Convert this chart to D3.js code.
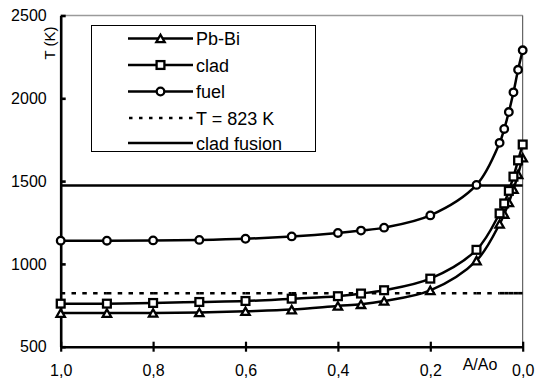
<!DOCTYPE html>
<html>
<head>
<meta charset="utf-8">
<script src="https://cdn.jsdelivr.net/npm/d3@7"></script>
<style>
  html, body { margin: 0; padding: 0; background: #fff; }
  svg { display: block; font-family: "Liberation Sans", Arial, sans-serif; }
</style>
</head>
<body>
<svg id="chart" width="536" height="385"></svg>
<script>
// Relative area A/Ao (plotted from 1 down to 0)
const areaRatio = [1.0, 0.9, 0.8, 0.7, 0.6, 0.5, 0.4, 0.35, 0.3, 0.2, 0.1, 0.05, 0.04, 0.03, 0.02, 0.01, 0.0];

// Temperatures in K
const pbBi = [703, 703, 704, 707, 714, 724, 746, 756, 776, 840, 1020, 1241, 1301, 1371, 1451, 1541, 1641];
const clad = [760, 760, 764, 770, 776, 790, 805, 821, 841, 911, 1085, 1305, 1365, 1441, 1527, 1625, 1721];
const fuel = [1140, 1140, 1142, 1145, 1152, 1166, 1187, 1201, 1219, 1293, 1477, 1731, 1815, 1917, 2036, 2172, 2290];

// Reference temperatures
const limitTemp = 823;
const cladFusionTemp = 1473;

const xTicks = [1.0, 0.8, 0.6, 0.4, 0.2, 0.0];
const yTicks = [500, 1000, 1500, 2000, 2500];

const legendLabels = ["Pb-Bi", "clad", "fuel", "T = 823 K", "clad fusion"];

const svg = d3.select("#chart");

const x = d3.scaleLinear().domain([1, 0]).range([60.7, 522.7]);
const y = d3.scaleLinear().domain([500, 2500]).range([346.7, 15.5]);

const fmt = d => d3.format(".1f")(d).replace(".", ",");
const FONT = "Liberation Sans, Arial, sans-serif";

// frame: light top edge, thin right edge
svg.append("line")
  .attr("x1", x(1)).attr("x2", x(0)).attr("y1", y(2500)).attr("y2", y(2500))
  .attr("stroke", "#9a9a9a").attr("stroke-width", 1.3);
svg.append("line")
  .attr("x1", x(0)).attr("x2", x(0)).attr("y1", y(2500)).attr("y2", y(500))
  .attr("stroke", "#444").attr("stroke-width", 1);

// Y axis
const yAxis = svg.append("g").attr("transform", `translate(${x(1)},0)`)
  .call(d3.axisLeft(y).tickValues(yTicks).tickFormat(d3.format("d"))
    .tickSizeInner(-5).tickSizeOuter(0).tickPadding(14));
yAxis.select(".domain").attr("stroke", "#000").attr("stroke-width", 2.6);
yAxis.selectAll(".tick line").attr("stroke", "#000").attr("stroke-width", 2.6);
yAxis.selectAll(".tick text").attr("font-size", 16).attr("fill", "#000").attr("font-family", FONT);

// X axis
const xAxis = svg.append("g").attr("transform", `translate(0,${y(500)})`)
  .call(d3.axisBottom(x).tickValues(xTicks).tickFormat(fmt)
    .tickSizeInner(5).tickSizeOuter(0).tickPadding(13));
xAxis.select(".domain").attr("stroke", "#000").attr("stroke-width", 2.6);
xAxis.selectAll(".tick line").attr("stroke", "#000").attr("stroke-width", 2.2).attr("y1", -5);
xAxis.selectAll(".tick text").attr("font-size", 16).attr("fill", "#000").attr("font-family", FONT);

// axis titles
svg.append("text")
  .attr("transform", `translate(55,43) rotate(-90)`)
  .attr("text-anchor", "middle").attr("font-size", 15).attr("fill", "#000").text("T (K)");
svg.append("text")
  .attr("x", 480).attr("y", 370)
  .attr("text-anchor", "middle").attr("font-size", 16).attr("fill", "#000").text("A/Ao");

// clad fusion level
svg.append("line")
  .attr("x1", x(1)).attr("x2", x(0))
  .attr("y1", y(cladFusionTemp)).attr("y2", y(cladFusionTemp))
  .attr("stroke", "#000").attr("stroke-width", 2.5);

// 823 K limit, dashed per segment between sample points
const dashArr = "4.5 6.3";
const limitPts = areaRatio.map(a => [x(a), y(limitTemp)]);
svg.append("g").selectAll("line")
  .data(d3.pairs(limitPts))
  .join("line")
  .attr("x1", d => d[0][0]).attr("y1", d => d[0][1])
  .attr("x2", d => d[1][0]).attr("y2", d => d[1][1])
  .attr("stroke", "#000").attr("stroke-width", 2.6)
  .attr("stroke-dasharray", dashArr);

// marker shapes
function drawMarker(g, type, cx, cy) {
  const sw = 2.3;
  if (type === "circle") {
    g.append("circle").attr("cx", cx).attr("cy", cy).attr("r", 3.8)
      .attr("fill", "#fff").attr("stroke", "#000").attr("stroke-width", sw);
  } else if (type === "square") {
    const s = 7.8;
    g.append("rect").attr("x", cx - s / 2).attr("y", cy - s / 2).attr("width", s).attr("height", s)
      .attr("fill", "#fff").attr("stroke", "#000").attr("stroke-width", sw);
  } else {
    const h = 7.4, w = 8.4;
    g.append("path")
      .attr("d", `M${cx},${cy - h / 2}L${cx + w / 2},${cy + h / 2}L${cx - w / 2},${cy + h / 2}Z`)
      .attr("fill", "#fff").attr("stroke", "#000").attr("stroke-width", sw)
      .attr("stroke-linejoin", "miter");
  }
}

const series = [
  { values: pbBi, marker: "triangle" },
  { values: clad, marker: "square" },
  { values: fuel, marker: "circle" }
];

const line = d3.line().x(d => x(d[0])).y(d => y(d[1])).curve(d3.curveCatmullRom.alpha(0.5));

series.forEach(s => {
  const pts = areaRatio.map((a, i) => [a, s.values[i]]);
  svg.append("path").attr("d", line(pts))
    .attr("fill", "none").attr("stroke", "#000").attr("stroke-width", 2.5);
  const mg = svg.append("g");
  pts.forEach(p => drawMarker(mg, s.marker, x(p[0]), y(p[1])));
});

// legend
const lg = svg.append("g");
lg.append("rect").attr("x", 91.5).attr("y", 25.5).attr("width", 224).attr("height", 126)
  .attr("fill", "#fff").attr("stroke", "#000").attr("stroke-width", 1);
const rowY = [38.5, 65, 91.5, 118, 143];
const markers = ["triangle", "square", "circle", null, null];
legendLabels.forEach((lab, i) => {
  const yy = rowY[i];
  const l = lg.append("line").attr("x1", 128).attr("x2", 193).attr("y1", yy).attr("y2", yy)
    .attr("stroke", "#000").attr("stroke-width", 2.5);
  if (i === 3) l.attr("stroke-dasharray", "3.5 6.5").attr("stroke-dashoffset", -1);
  if (markers[i]) drawMarker(lg, markers[i], 160.5, yy);
  lg.append("text").attr("x", 196).attr("y", yy + 6.5).attr("font-size", 18).attr("fill", "#000").text(lab);
});
</script>
</body>
</html>
